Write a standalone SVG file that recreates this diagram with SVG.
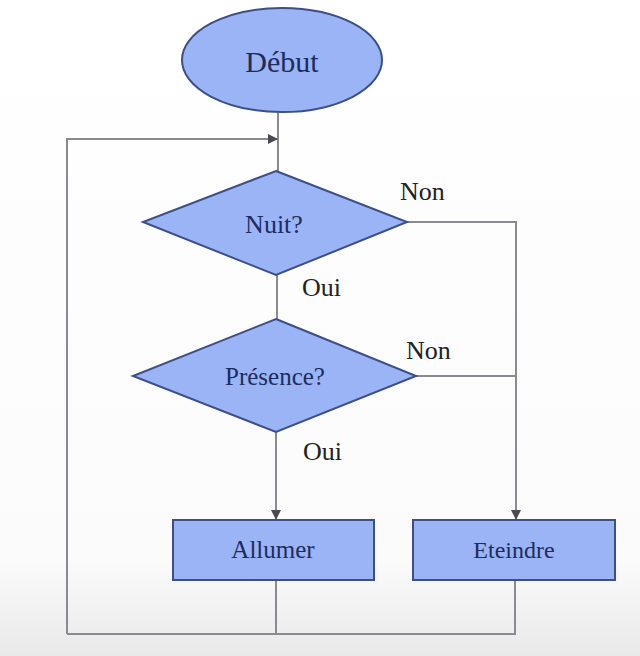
<svg xmlns="http://www.w3.org/2000/svg" width="640" height="656" viewBox="0 0 640 656">
  <defs>
    <linearGradient id="bg" x1="0" y1="0" x2="0" y2="1">
      <stop offset="0" stop-color="#ffffff"/>
      <stop offset="0.85" stop-color="#fbfbfb"/>
      <stop offset="1" stop-color="#e9e9ea"/>
    </linearGradient>
    <marker id="arr" viewBox="0 0 10 10" refX="10" refY="5" markerWidth="10" markerHeight="10" markerUnits="userSpaceOnUse" orient="auto">
      <path d="M0,0 L10,5 L0,10 Z" fill="#4a4a55"/>
    </marker>
    <style>
      .shape { fill: #9bb4f6; stroke: #3d4f86; stroke-width: 2; }
      .conn { fill: none; stroke: #8a8a92; stroke-width: 2; }
      text { font-family: 'Liberation Serif', 'DejaVu Serif', serif; }
      .lbl { fill: #1d2c5c; text-anchor: middle; }
      .edge { fill: #222222; font-size: 26px; }
    </style>
  </defs>
  <rect x="0" y="0" width="640" height="656" fill="url(#bg)"/>

  <g id="connectors">
    <path class="conn" d="M278,112 L278,171"/>
    <path class="conn" d="M67,634 L67,139 L278,139" marker-end="url(#arr)"/>
    <path class="conn" d="M277,275 L277,319"/>
    <path class="conn" d="M407,222 L516,222 L516,520" marker-end="url(#arr)"/>
    <path class="conn" d="M416,376 L516,376"/>
    <path class="conn" d="M276,432 L276,520" marker-end="url(#arr)"/>
    <path class="conn" d="M276,580 L276,634"/>
    <path class="conn" d="M515,580 L515,634 L67,634"/>
    <text class="edge" x="400" y="200" font-family="Liberation Serif, serif">Non</text>
    <text class="edge" x="302" y="296" font-family="Liberation Serif, serif">Oui</text>
    <text class="edge" x="406" y="359" font-family="Liberation Serif, serif">Non</text>
    <text class="edge" x="303" y="460" font-family="Liberation Serif, serif">Oui</text>
  </g>

  <g id="debut">
    <ellipse class="shape" cx="282" cy="60" rx="100" ry="52"/>
    <text class="lbl" x="282" y="72" font-size="30" font-family="Liberation Serif, serif">Début</text>
  </g>

  <g id="nuit">
    <polygon class="shape" points="276,171 407,222 276,275 143,222"/>
    <text class="lbl" x="274" y="233" font-size="26" font-family="Liberation Serif, serif">Nuit?</text>
  </g>

  <g id="presence">
    <polygon class="shape" points="276,319 416,376 276,432 133,376"/>
    <text class="lbl" x="275" y="385" font-size="25" font-family="Liberation Serif, serif">Présence?</text>
  </g>

  <g id="allumer">
    <rect class="shape" x="173" y="520" width="201" height="60"/>
    <text class="lbl" x="273" y="558" font-size="25" font-family="Liberation Serif, serif">Allumer</text>
  </g>

  <g id="eteindre">
    <rect class="shape" x="413" y="520" width="202" height="60"/>
    <text class="lbl" x="514" y="558" font-size="24" font-family="Liberation Serif, serif">Eteindre</text>
  </g>
</svg>
